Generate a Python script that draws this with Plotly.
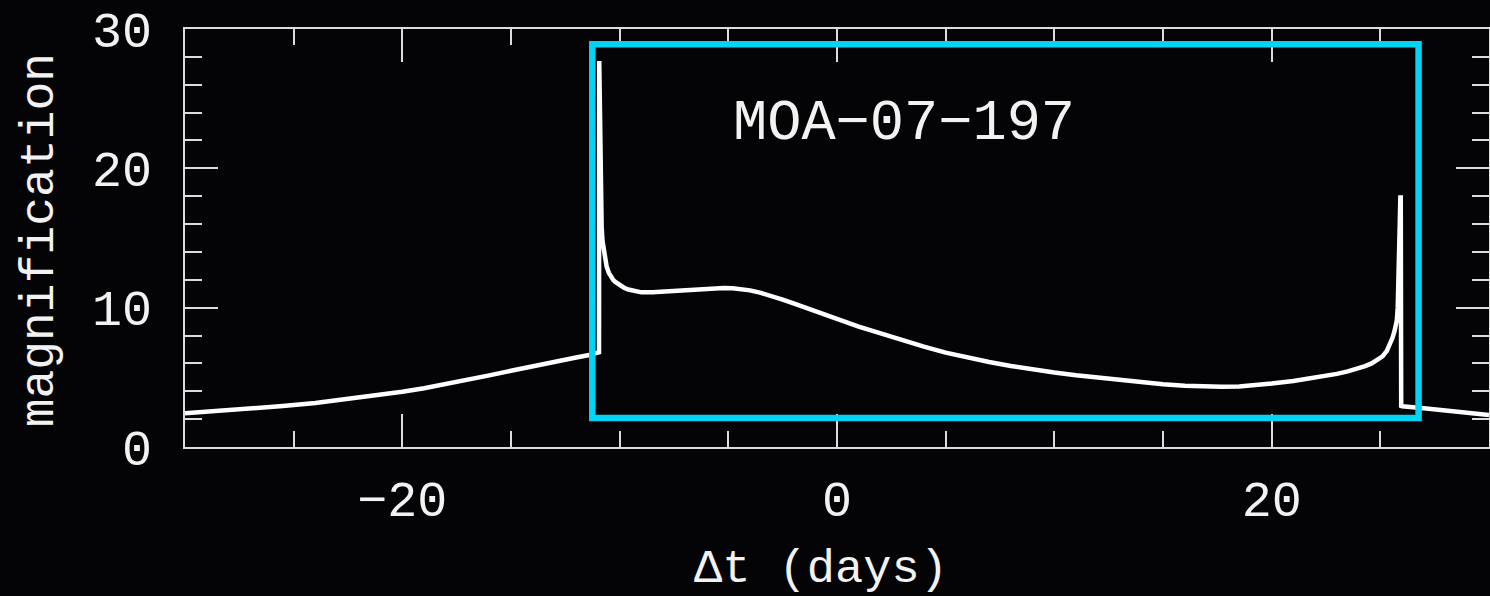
import plotly.graph_objects as go

# Light curve of the microlensing event: time offset (days) vs magnification
t_days = [-30.0, -28.5, -27.0, -25.5, -24.0, -22.5, -21.0, -20.0, -19.0, -18.0,
          -17.0, -16.0, -15.0, -14.0, -13.0, -12.0, -11.4, -11.0, -10.95,
          -10.94, -10.93, -10.92, -10.91, -10.90, -10.88, -10.86, -10.83,
          -10.79, -10.70, -10.60, -10.50, -10.40, -10.30, -10.20, -10.00,
          -9.80, -9.60, -9.30, -9.00, -8.50, -8.00, -7.50, -7.00, -6.50,
          -6.00, -5.60, -5.20, -4.80, -4.40, -4.00, -3.50, -3.00, -2.50,
          -2.00, -1.50, -1.00, 0.00, 1.00, 2.00, 3.00, 4.00, 5.00, 6.00, 7.00,
          8.00, 9.00, 10.00, 11.00, 12.00, 13.00, 14.00, 15.00, 16.00, 17.00,
          17.70, 18.50, 19.25, 20.00, 21.00, 22.00, 23.00, 23.50, 24.00,
          24.30, 24.60, 24.85, 25.10, 25.30, 25.45, 25.55, 25.65, 25.72,
          25.76, 25.80, 25.83, 25.86, 25.89, 25.92, 25.94, 25.96, 26.00,
          27.00, 28.00, 29.00, 30.00]
magnification = [2.42, 2.58, 2.76, 2.94, 3.16, 3.44, 3.74, 3.97, 4.22, 4.50,
                 4.82, 5.14, 5.47, 5.81, 6.15, 6.42, 6.60, 6.75, 6.80,
                 27.70, 26.00, 24.00, 22.30, 21.00, 18.50, 16.80, 15.80,
                 14.80, 13.60, 12.95, 12.50, 12.20, 12.00, 11.85, 11.60,
                 11.43, 11.30, 11.17, 11.10, 11.10, 11.15, 11.20, 11.25, 11.32,
                 11.38, 11.41, 11.42, 11.40, 11.35, 11.24, 11.06, 10.84, 10.58,
                 10.30, 10.04, 9.77, 9.19, 8.64, 8.14, 7.66, 7.20, 6.77, 6.42,
                 6.10, 5.82, 5.56, 5.35, 5.15, 4.97, 4.80, 4.63, 4.50, 4.40,
                 4.33, 4.32, 4.35, 4.44, 4.55, 4.74, 4.97, 5.25, 5.43, 5.65,
                 5.80, 6.00, 6.22, 6.50, 6.90, 7.40, 7.80, 8.30, 8.75,
                 9.10, 10.00, 11.30, 13.50, 15.80, 17.90, 17.90, 2.95, 2.93,
                 2.78, 2.62, 2.46, 2.30]

x_range = [-30, 30]
y_range = [0, 30]
x_major, x_minor = 20, 5
y_major, y_minor = 10, 2

# Highlight box around the caustic-crossing part of the event
box_x = [-11.26, 26.76]
box_y = [2.08, 28.9]
event_name = "MOA\u221207\u2212197"
label_pos = (3.06, 23.15)

x_title = "\u0394t (days)"
y_title = "magnification"

FONT = "Liberation Mono"
FG = "#f2f2f2"
BG = "#040406"
CYAN = "#00d3f3"
AXIS = "#dcdcdc"

fig = go.Figure()
fig.add_trace(go.Scatter(
    x=t_days, y=magnification, mode="lines",
    line=dict(color="#ffffff", width=4.5), hoverinfo="skip", showlegend=False,
))

fig.add_shape(type="rect", xref="x", yref="y",
              x0=box_x[0], x1=box_x[1], y0=box_y[0], y1=box_y[1],
              line=dict(color=CYAN, width=6.5), layer="above")

fig.add_annotation(x=label_pos[0], y=label_pos[1], xref="x", yref="y",
                   text=event_name, showarrow=False,
                   xanchor="center", yanchor="middle",
                   font=dict(family=FONT, size=57, color=FG))

# Axis titles
fig.add_annotation(x=0.488, y=-0.294, xref="paper", yref="paper",
                   text=x_title, showarrow=False,
                   xanchor="center", yanchor="middle",
                   font=dict(family=FONT, size=47, color=FG))
fig.add_annotation(x=-0.111, y=0.495, xref="paper", yref="paper",
                   text=y_title, showarrow=False, textangle=-90,
                   xanchor="center", yanchor="middle",
                   font=dict(family=FONT, size=48, color=FG))

axis_common = dict(
    showgrid=False, zeroline=False, showline=True, linecolor=AXIS,
    linewidth=2, mirror="allticks", ticks="inside", tickwidth=2,
    tickcolor=AXIS, ticklen=33,
    tickfont=dict(family=FONT, size=50, color=FG),
)

fig.update_xaxes(
    range=x_range, dtick=x_major, tick0=0, ticklabelstandoff=7,
    minor=dict(dtick=x_minor, ticks="inside", ticklen=16, tickwidth=2,
               tickcolor=AXIS, showgrid=False),
    **axis_common,
)
fig.update_yaxes(
    range=y_range, dtick=y_major, tick0=0, ticklabelstandoff=21,
    minor=dict(dtick=y_minor, ticks="inside", ticklen=17, tickwidth=2,
               tickcolor=AXIS, showgrid=False),
    **axis_common,
)

fig.update_layout(
    width=1490, height=596,
    margin=dict(l=185, r=1, t=29, b=149, autoexpand=False),
    paper_bgcolor=BG, plot_bgcolor=BG,
    showlegend=False,
)

fig.write_html("out.html")
